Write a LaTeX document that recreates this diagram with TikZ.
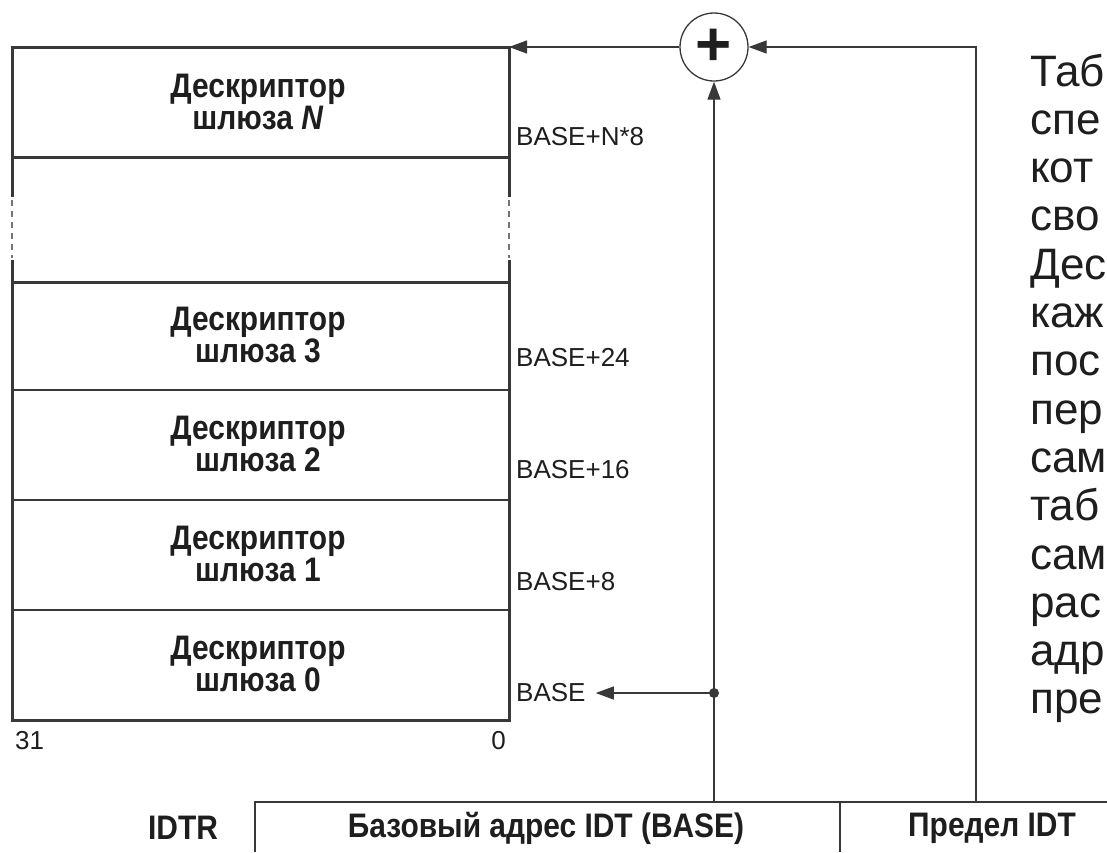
\documentclass[tikz,border=0pt]{standalone}
\usepackage{fontspec}
\setmainfont{Liberation Sans}
\newfontfamily\condsans[FakeStretch=0.88]{Liberation Sans}
\usetikzlibrary{arrows.meta}
\definecolor{ink}{HTML}{1E1E1E}
\definecolor{ln}{HTML}{383838}
\begin{document}
\begin{tikzpicture}[x=1pt,y=-1pt,
  thickbox/.style={line width=3pt, draw=ln},
  thinrow/.style={line width=1.4pt, draw=ln},
  dashedge/.style={line width=1.3pt, draw=ln!70, dash pattern=on 6pt off 5pt},
  conn/.style={line width=1.3pt, draw=ln},
  tip/.style={-{Triangle[length=18pt,width=13pt]}},
  desc/.style={font=\condsans\bfseries\fontsize{34}{24}\selectfont, align=center, inner sep=0pt, text=ink},
  addr/.style={font=\fontsize{26}{26}\selectfont, anchor=west, inner sep=0pt, text=ink},
  boldlab/.style={font=\condsans\bfseries\fontsize{34}{34}\selectfont, inner sep=0pt, text=ink},
  side/.style={font=\fontsize{44}{48}\selectfont, anchor=base west, inner sep=0pt, text=ink}]
\useasboundingbox (0,0) rectangle (1107,852);
\clip (0,0) rectangle (1107,852);
\fill[white] (0,0) rectangle (1107,852);
% table
\draw[thickbox] (12,197) -- (12,47) -- (509,47) -- (509,197);
\draw[thickbox] (12,157) -- (509,157);
\draw[thickbox] (12,260) -- (12,720) -- (509,720) -- (509,260);
\draw[thickbox] (12,282) -- (509,282);
\draw[thinrow] (12,390) -- (509,390);
\draw[thinrow] (12,500) -- (509,500);
\draw[thinrow] (12,610) -- (509,610);
\draw[dashedge] (12,200) -- (12,258);
\draw[dashedge] (509,200) -- (509,258);
% descriptors
\node[desc] (dN) at (258,102) {Дескриптор\\шлюза \textit{N}};
\node[desc] (d3) at (258,335) {Дескриптор\\шлюза 3};
\node[desc] (d2) at (258,444) {Дескриптор\\шлюза 2};
\node[desc] (d1) at (258,554) {Дескриптор\\шлюза 1};
\node[desc] (d0) at (258,664) {Дескриптор\\шлюза 0};
% addresses
\node[addr] (aN) at (516,137) {BASE+N*8};
\node[addr] (a3) at (516,358) {BASE+24};
\node[addr] (a2) at (516,470) {BASE+16};
\node[addr] (a1) at (516,582) {BASE+8};
\node[addr] (a0) at (516,693) {BASE};
\node[addr, anchor=west] (b31) at (15,741) {31};
\node[addr, anchor=east] (b0) at (506,741) {0};
% adder
\node[circle, draw=ln, line width=1.3pt, minimum size=68pt, inner sep=0pt,
      font=\bfseries\fontsize{62}{62}\selectfont, text=ink] (sum) at (714,47) {+};
\coordinate (tabTR) at (509,47);
\coordinate (baseTop) at (714,802);
\coordinate (limTop) at (976,802);
\coordinate (corner) at (976,47);
\coordinate (dot) at (714,693);
\draw[conn, tip] (sum) -- (tabTR);
\draw[conn, tip] (limTop) -- (corner) -- (sum);
\draw[conn, tip] (baseTop) -- (sum);
\fill[ln] (dot) circle (5pt);
\draw[conn, tip, shorten >=10pt] (dot) -- (a0.east);
% IDTR register
\draw[conn] (255,852) -- (255,802) -- (1107,802);
\draw[conn] (840,802) -- (840,852);
\node[boldlab] (idtr) at (183,828) {IDTR};
\node[boldlab] (base) at (546,828) {Базовый адрес IDT (BASE)};
\node[boldlab] (lim) at (992,828) {Предел IDT};
% side text
\foreach \w [count=\i from 0] in {Таб,спе,кот,сво,Дес,каж,пос,пер,сам,таб,сам,рас,адр,пре}
  \node[side] (s\i) at (1030,{86+48.3*\i}) {\w};
\end{tikzpicture}
\end{document}
